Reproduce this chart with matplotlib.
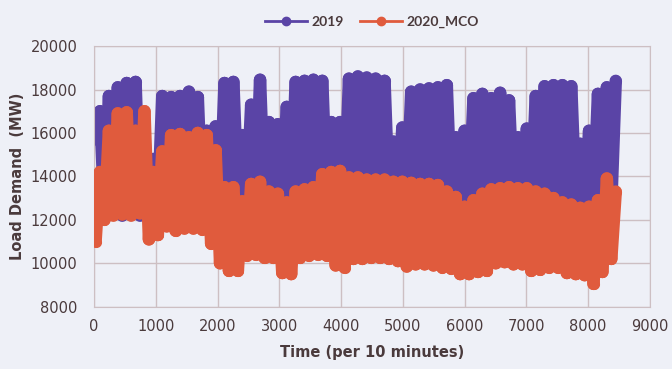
import numpy as np
import matplotlib.pyplot as plt
from matplotlib.collections import LineCollection

# One reading per day (144 samples of 10 minutes)
steps_per_day = 144

# 2019: daily peak and night trough (MW)
peak_2019 = [17000, 17700, 18100, 18300, 18350, 15800, 14800, 17700, 17650, 17700,
             17900, 17650, 16100, 16300, 18300, 18350, 15900, 17300, 18450, 16500,
             16400, 17200, 18350, 18400, 18450, 18400, 16500, 16500, 18500, 18600,
             18550, 18500, 18400, 15600, 16250, 17900, 18000, 18050, 18100, 18200,
             15800, 16100, 17600, 17800, 17600, 17850, 17500, 15800, 16200, 17700,
             18150, 18200, 18200, 18150, 15500, 16100, 17800, 18100, 18400]
trough_2019 = [15700, 12400, 12300, 12200, 12250, 12200, 12150, 12300, 12350, 12300,
               12300, 12350, 12250, 12200, 12700, 12800, 12900, 12800, 12800, 12750,
               12700, 12770, 12800, 12800, 12850, 12800, 12700, 12700, 12800, 12800,
               12800, 12750, 12800, 12700, 12650, 12750, 12800, 12800, 12750, 12700,
               12650, 12600, 12700, 12750, 12750, 12800, 12750, 12700, 12650, 12700,
               12750, 12750, 12700, 12700, 12650, 12600, 12650, 12700, 12750]

# 2020 (movement control order): daily peak and night trough (MW)
peak_2020 = [14200, 16100, 16900, 16950, 16100, 17000, 14200, 15150, 15900, 15950,
             15800, 16000, 15900, 15200, 13500, 13500, 12850, 13650, 13750, 13300,
             13200, 12800, 13300, 13400, 13500, 14100, 14200, 14250, 13950, 13950,
             13850, 13850, 13850, 13750, 13750, 13700, 13650, 13650, 13600, 13300,
             13050, 12600, 12900, 13200, 13400, 13450, 13500, 13450, 13450, 13300,
             13200, 13000, 12800, 12700, 12550, 12600, 12900, 13900, 13300]
trough_2020 = [11000, 12000, 12200, 12250, 12200, 12300, 11100, 11300, 11700, 11500,
               11600, 11600, 11550, 10900, 10000, 9650, 9650, 10350, 10400, 10250,
               10250, 9550, 9500, 10250, 10350, 10400, 10350, 9900, 9800, 10200,
               10200, 10250, 10250, 10200, 10100, 9850, 9950, 9950, 9900, 9800,
               9750, 9500, 9500, 9600, 9650, 10000, 10050, 9950, 9950, 9650,
               9700, 9800, 9800, 9550, 9500, 9450, 9050, 9600, 10200]


def day_series(peaks, troughs):
    # night trough early in the day, peak around midday
    t, v = [], []
    for d, (p, q) in enumerate(zip(peaks, troughs)):
        t += [d * steps_per_day + 24, d * steps_per_day + 96]
        v += [q, p]
    return t, v


def draw_series(ax, t, v, color, label, z):
    # each segment stroked on its own so the sharp zigzag leaves no holes
    pts = np.column_stack([t, v])
    segs = np.stack([pts[:-1], pts[1:]], axis=1)
    ax.add_collection(LineCollection(segs, colors=color, linewidths=9,
                                     capstyle='round', zorder=z))
    ax.plot(t, v, 'o', color=color, ms=7, zorder=z)
    ax.plot([], [], '-o', color=color, lw=2, ms=6, label=label)


bg = '#eef0f7'
text_col = '#4a3a3c'
grid_col = '#cdbfc3'
purple = '#5a44a6'
orange = '#e05b3d'

fig = plt.figure(figsize=(6.72, 3.69), dpi=100, facecolor=bg)
ax = fig.add_axes([0.140, 0.169, 0.827, 0.706], facecolor=bg)
plt.rcParams['font.family'] = ['Lato', 'DejaVu Sans']

t19, v19 = day_series(peak_2019, trough_2019)
t20, v20 = day_series(peak_2020, trough_2020)
draw_series(ax, t19, v19, purple, '2019', 2)
draw_series(ax, t20, v20, orange, '2020_MCO', 3)

ax.set_xlim(0, 9000)
ax.set_ylim(8000, 20000)
ax.set_xticks(np.arange(0, 9001, 1000))
ax.set_yticks(np.arange(8000, 20001, 2000))
ax.grid(True, color=grid_col, lw=1.0, zorder=0)
for s in ax.spines.values():
    s.set_color(grid_col)
ax.tick_params(length=0, labelsize=10.5, labelcolor=text_col, pad=9)
ax.tick_params(axis='y', pad=12)

ax.set_xlabel('Time (per 10 minutes)', fontsize=10.5, fontweight='bold', color=text_col, labelpad=8)
ax.set_ylabel('Load Demand  (MW)', fontsize=10.5, fontweight='bold', color=text_col, labelpad=4)

leg = ax.legend(loc='lower center', bbox_to_anchor=(0.5, 1.02), ncol=2, frameon=False,
                fontsize=10, handlelength=3, columnspacing=1.2, handletextpad=0.3)
for txt in leg.get_texts():
    txt.set_fontweight('bold')
    txt.set_color(text_col)

fig.savefig('out.png', dpi=100, facecolor=bg)
